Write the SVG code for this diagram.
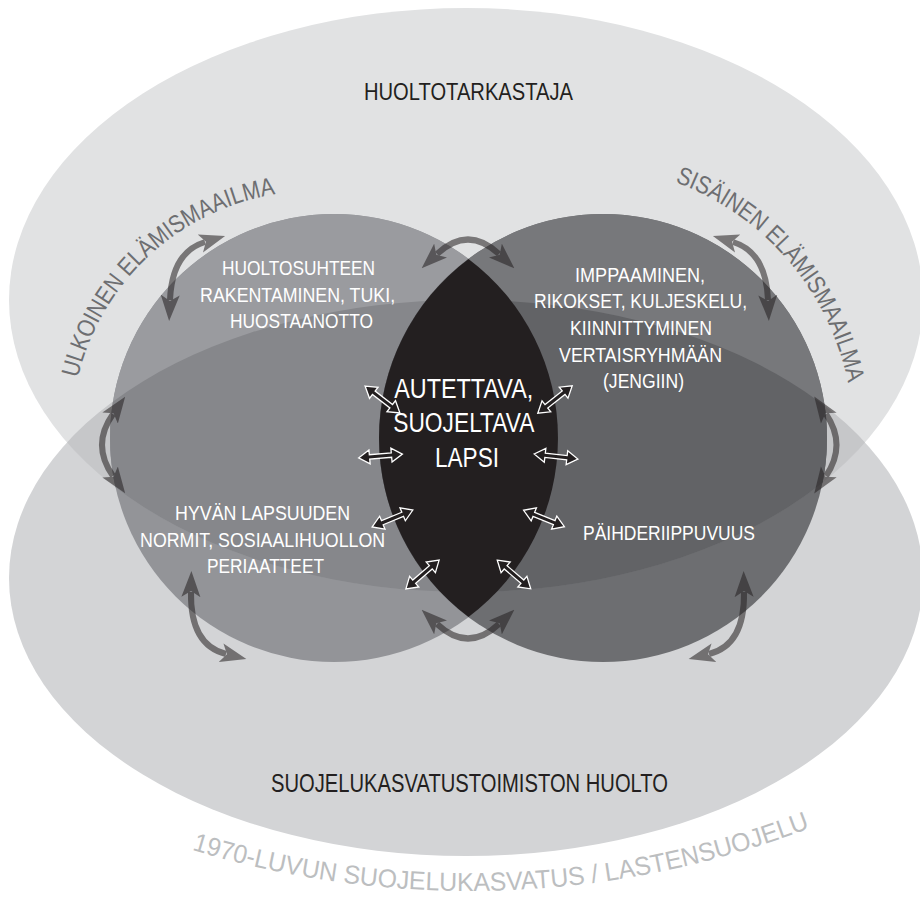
<svg xmlns="http://www.w3.org/2000/svg" xmlns:xlink="http://www.w3.org/1999/xlink" width="920" height="897" viewBox="0 0 920 897">
<style>
.t{font-family:'Liberation Sans Narrow','Liberation Sans',Arial,sans-serif;}
.dark{fill:#231f20;}
.wh{fill:#ffffff;font-size:21px;}
.big{fill:#ffffff;font-size:27px;}
.arc{fill:#6d6e71;font-size:25px;}
.era{fill:#bcbec0;font-size:26px;}
.dbl{fill:#231f20;stroke:#ffffff;stroke-width:1.3;stroke-linejoin:miter;}
</style>
<defs>
<clipPath id="cTop"><ellipse cx="466" cy="300" rx="457" ry="292"/></clipPath>
<clipPath id="cBot"><ellipse cx="466" cy="578" rx="457" ry="278"/></clipPath>
<marker id="ah" viewBox="0 0 26 20" refX="5" refY="10" markerWidth="26" markerHeight="20" markerUnits="userSpaceOnUse" orient="auto-start-reverse">
<path d="M0,0.5 L26,10 L0,19.5 L6,10 Z" fill="#231f20" stroke="none"/>
</marker>
<path id="dbl" d="M-22,0 L-11,-7 L-11,-2.2 L11,-2.2 L11,-7 L22,0 L11,7 L11,2.2 L-11,2.2 L-11,7 Z"/>
<path id="pLeft" d="M74.7,392.6 A244,244 0 0 1 293.7,191.9" fill="none"/>
<path id="pRight" d="M660.7,177.3 A272.6,272.6 0 0 1 851,400" fill="none"/>
<path id="pBottom" d="M158.4,839 A954,954 0 0 0 841.7,815.2" fill="none"/>
</defs>

<rect x="0" y="0" width="920" height="897" fill="#ffffff"/>

<g id="ellipse-top">
<ellipse cx="466" cy="300" rx="457" ry="292" fill="#e1e2e3"/>
<text class="t dark" x="468.5" y="99.5" font-size="24" text-anchor="middle" textLength="209" lengthAdjust="spacingAndGlyphs">HUOLTOTARKASTAJA</text>
</g>

<g id="ellipse-bottom">
<ellipse cx="466" cy="578" rx="457" ry="278" fill="#d3d4d6"/>
<ellipse cx="466" cy="578" rx="457" ry="278" fill="#c6c7c9" clip-path="url(#cTop)"/>
<text class="t dark" x="469.5" y="792" font-size="25" text-anchor="middle" textLength="397" lengthAdjust="spacingAndGlyphs">SUOJELUKASVATUSTOIMISTON HUOLTO</text>
</g>

<g id="circle-left">
<circle cx="334" cy="438" r="224" fill="#939498"/>
<circle cx="334" cy="438" r="224" fill="#9a9b9f" clip-path="url(#cTop)"/>
<g clip-path="url(#cTop)"><circle cx="334" cy="438" r="224" fill="#86878b" clip-path="url(#cBot)"/></g>
<text class="t arc"><textPath xlink:href="#pLeft" href="#pLeft" startOffset="15" textLength="286" lengthAdjust="spacingAndGlyphs">ULKOINEN ELÄMISMAAILMA</textPath></text>
<text class="t wh" text-anchor="middle">
<tspan x="301.5" y="275" textLength="153" lengthAdjust="spacingAndGlyphs">HUOLTOSUHTEEN</tspan>
<tspan x="300.5" y="301.5" textLength="195" lengthAdjust="spacingAndGlyphs">RAKENTAMINEN, TUKI,</tspan>
<tspan x="301.5" y="328" textLength="143" lengthAdjust="spacingAndGlyphs">HUOSTAANOTTO</tspan>
</text>
<text class="t wh" text-anchor="middle">
<tspan x="265.5" y="520" textLength="175" lengthAdjust="spacingAndGlyphs">HYVÄN LAPSUUDEN</tspan>
<tspan x="265.5" y="546.5" textLength="245" lengthAdjust="spacingAndGlyphs">NORMIT, SOSIAALIHUOLLON</tspan>
<tspan x="265.5" y="572.5" textLength="117" lengthAdjust="spacingAndGlyphs">PERIAATTEET</tspan>
</text>
</g>

<g id="circle-right">
<circle cx="603" cy="438" r="224" fill="#6d6e71"/>
<circle cx="603" cy="438" r="224" fill="#77787b" clip-path="url(#cTop)"/>
<g clip-path="url(#cTop)"><circle cx="603" cy="438" r="224" fill="#626366" clip-path="url(#cBot)"/></g>
<text class="t arc"><textPath xlink:href="#pRight" href="#pRight" startOffset="15" textLength="277" lengthAdjust="spacingAndGlyphs">SISÄINEN ELÄMISMAAILMA</textPath></text>
<text class="t wh" text-anchor="middle">
<tspan x="643" y="281.5" textLength="130" lengthAdjust="spacingAndGlyphs">IMPPAAMINEN,</tspan>
<tspan x="643.5" y="308" textLength="213" lengthAdjust="spacingAndGlyphs">RIKOKSET, KULJESKELU,</tspan>
<tspan x="644" y="335" textLength="142" lengthAdjust="spacingAndGlyphs">KIINNITTYMINEN</tspan>
<tspan x="643.5" y="362" textLength="163" lengthAdjust="spacingAndGlyphs">VERTAISRYHMÄÄN</tspan>
<tspan x="643.5" y="388" textLength="81" lengthAdjust="spacingAndGlyphs">(JENGIIN)</tspan>
</text>
<text class="t wh" x="669" y="540" text-anchor="middle" textLength="172" lengthAdjust="spacingAndGlyphs">PÄIHDERIIPPUVUUS</text>
</g>

<g id="center-child">
<path d="M468.5,258.9 A224,224 0 0 1 468.5,617.1 A224,224 0 0 1 468.5,258.9 Z" fill="#231f20"/>
<text class="t big" text-anchor="middle">
<tspan x="467.5" y="397.5" textLength="139" lengthAdjust="spacingAndGlyphs">AUTETTAVA,</tspan>
<tspan x="467" y="431.5" textLength="140" lengthAdjust="spacingAndGlyphs">SUOJELTAVA</tspan>
<tspan x="467" y="467" textLength="64" lengthAdjust="spacingAndGlyphs">LAPSI</tspan>
</text>
<g class="dbl">
<use xlink:href="#dbl" href="#dbl" transform="translate(382.5,399.5) rotate(37.6)"/>
<use xlink:href="#dbl" href="#dbl" transform="translate(555,399.5) rotate(-38.5)"/>
<use xlink:href="#dbl" href="#dbl" transform="translate(380.5,456) rotate(-5)"/>
<use xlink:href="#dbl" href="#dbl" transform="translate(556,456.5) rotate(6.5)"/>
<use xlink:href="#dbl" href="#dbl" transform="translate(392.5,518.5) rotate(-22.5)"/>
<use xlink:href="#dbl" href="#dbl" transform="translate(544,518.5) rotate(22)"/>
<use xlink:href="#dbl" href="#dbl" transform="translate(422.5,574.5) rotate(-41)"/>
<use xlink:href="#dbl" href="#dbl" transform="translate(514,574.5) rotate(40.5)"/>
</g>
</g>

<g id="connectors" opacity="0.55" fill="none" stroke="#231f20" stroke-width="6">
<path d="M170,300 Q172,252 205,242" marker-start="url(#ah)" marker-end="url(#ah)"/>
<path d="M437,254 Q468,225 499,254" marker-start="url(#ah)" marker-end="url(#ah)"/>
<path d="M733,242 Q766,252 768,300" marker-start="url(#ah)" marker-end="url(#ah)"/>
<path d="M826,414 Q847,445 826,476" marker-start="url(#ah)" marker-end="url(#ah)"/>
<path d="M113,414 Q91,445 113,476" marker-start="url(#ah)" marker-end="url(#ah)"/>
<path d="M191,592 Q190,645 226,654" marker-start="url(#ah)" marker-end="url(#ah)"/>
<path d="M437,624 Q468,653 499,624" marker-start="url(#ah)" marker-end="url(#ah)"/>
<path d="M744,592 Q745,645 709,654" marker-start="url(#ah)" marker-end="url(#ah)"/>
</g>

<g id="era-label">
<text class="t era"><textPath xlink:href="#pBottom" href="#pBottom" startOffset="35" textLength="630" lengthAdjust="spacingAndGlyphs">1970-LUVUN SUOJELUKASVATUS / LASTENSUOJELU</textPath></text>
</g>
</svg>
